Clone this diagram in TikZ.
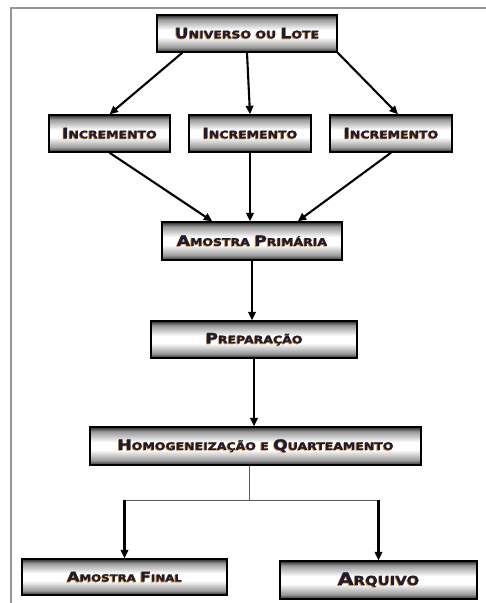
\documentclass[tikz,border=0pt]{standalone}
\usepackage{fontspec}
\setmainfont{DejaVu Sans}[FakeStretch=1.2, BoldFeatures={FakeBold=1.2}]
\usetikzlibrary{arrows.meta}
\definecolor{txtblue}{RGB}{28,28,52}
\definecolor{glow}{RGB}{226,140,40}
\definecolor{framegray}{RGB}{150,150,150}
\pgfdeclareverticalshading{boxshade}{100bp}{color(0bp)=(black!85); color(25bp)=(black!85); color(31bp)=(black!40); color(45bp)=(white); color(55bp)=(white); color(69bp)=(black!40); color(75bp)=(black!85); color(100bp)=(black!85)}
\newcommand\bigc[1]{\scalebox{1.38}{#1}}
\newcommand\glowtext[1]{\makebox[0pt][l]{\hspace{-0.8pt}\raisebox{-0.8pt}{\color{glow}#1}}#1}

\begin{document}
\begin{tikzpicture}[x=1pt,y=-1pt,
    box/.style={draw=black, line width=1.4pt, shading=boxshade, minimum height=37pt,
        inner sep=0pt, font=\bfseries\fontsize{10.4}{12}\selectfont, text=txtblue},
    flow/.style={line width=2.1pt, -{Triangle[length=8.5pt,width=7.5pt]}},
    thin/.style={line width=0.9pt, draw=black!65}]
    \useasboundingbox (0,0) rectangle (486,603);
    \draw[framegray, line width=1.2pt] (11,603) -- (11,8) -- (486,8);

    \node[box, minimum width=180pt] (U) at (247,33.5) {\glowtext{\bigc{U}NIVERSO OU \bigc{L}OTE}};
    \node[box, minimum width=121pt] (I1) at (109.5,133.5) {\glowtext{\bigc{I}NCREMENTO}};
    \node[box, minimum width=122pt] (I2) at (250,133.5) {\glowtext{\bigc{I}NCREMENTO}};
    \node[box, minimum width=122pt] (I3) at (391,133.5) {\glowtext{\bigc{I}NCREMENTO}};
    \node[box, minimum width=180pt, minimum height=38pt] (AP) at (252,241) {\glowtext{\bigc{A}MOSTRA \bigc{P}RIMÁRIA}};
    \node[box, minimum width=206pt] (PR) at (254,339.5) {\glowtext{\bigc{P}REPARAÇÃO}};
    \node[box, minimum width=331pt, minimum height=38pt] (HQ) at (255.5,446) {\glowtext{\bigc{H}OMOGENEIZAÇÃO E \bigc{Q}UARTEAMENTO}};
    \node[box, minimum width=205pt, minimum height=36pt, font=\bfseries\fontsize{9.8}{11}\selectfont] (AF) at (124.5,577) {\glowtext{\bigc{A}MOSTRA \bigc{F}INAL}};
    \node[box, minimum width=197pt, minimum height=38pt, font=\bfseries\fontsize{12.4}{14}\selectfont] (AR) at (378.5,580) {\glowtext{\bigc{A}RQUIVO}};

    \coordinate (split) at (249,500);
    \coordinate (fl) at (AF.north |- split);
    \coordinate (fr) at (AR.north |- split);

    \draw[flow] ([xshift=26pt]U.south west) -- (I1.north);
    \draw[flow] (U.south) -- (I2.north);
    \draw[flow] (U.south east) -- ([xshift=7pt]I3.north);
    \draw[flow] (I1.south) -- ([xshift=51pt]AP.north west);
    \draw[flow] (I2.south) -- (I2.south |- AP.north);
    \draw[flow] (I3.south) -- ([xshift=-45pt]AP.north east);
    \draw[flow] (AP.south) -- (AP.south |- PR.north);
    \draw[flow] (PR.south) -- (PR.south |- HQ.north);
    \draw[thin] (HQ.south -| split) -- (split);
    \draw[thin] (fl) -- (fr);
    \draw[flow] (fl) -- (AF.north);
    \draw[flow] (fr) -- (AR.north);
\end{tikzpicture}
\end{document}
